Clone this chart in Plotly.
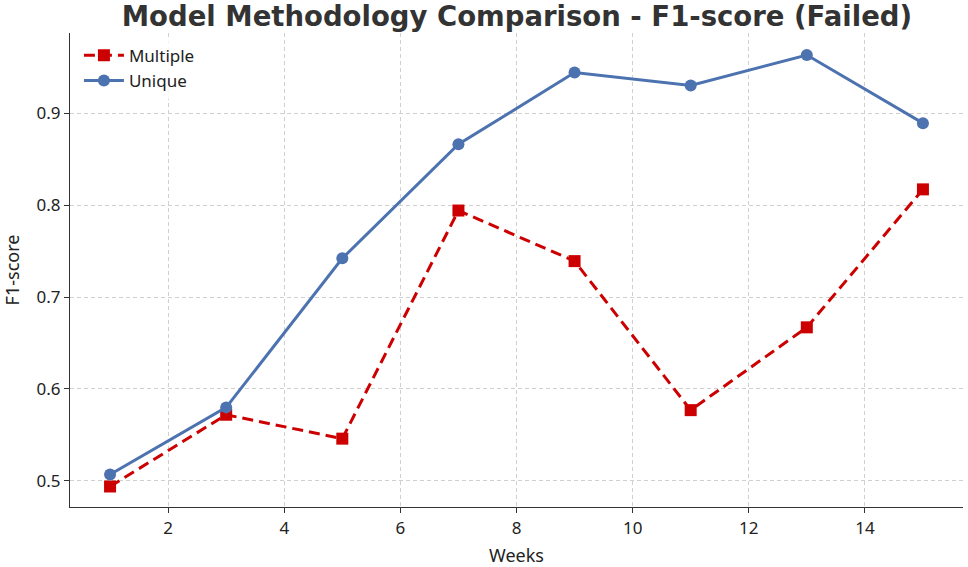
import plotly.graph_objects as go

weeks = [1, 3, 5, 7, 9, 11, 13, 15]
multiple = [0.494, 0.572, 0.546, 0.794, 0.739, 0.577, 0.667, 0.817]
unique = [0.507, 0.580, 0.742, 0.866, 0.944, 0.930, 0.963, 0.889]

FONT = "Noto Sans"

fig = go.Figure()
fig.add_trace(go.Scatter(
    x=weeks, y=multiple, name="Multiple", mode="lines+markers",
    line=dict(color="#cc0000", width=3, dash="11px,6px"),
    marker=dict(symbol="square", size=12, color="#cc0000"),
))
fig.add_trace(go.Scatter(
    x=weeks, y=unique, name="Unique", mode="lines+markers",
    line=dict(color="#4c72b0", width=3),
    marker=dict(symbol="circle", size=12, color="#4c72b0"),
))

axis_common = dict(
    showline=True, linecolor="#333333", linewidth=1.2, mirror=False,
    ticks="outside", ticklen=5, tickcolor="#333333",
    showgrid=True, gridcolor="#d0d0d0", griddash="4px,3px", gridwidth=1,
    zeroline=False, automargin=False,
    tickfont=dict(family=FONT, size=17, color="#222222"),
)

fig.update_layout(
    width=968, height=567,
    margin=dict(l=70, r=5, t=33, b=60),
    plot_bgcolor="white", paper_bgcolor="white",
    title=dict(
        text="<b>Model Methodology Comparison - F1-score (Failed)</b>",
        x=0.534, xanchor="center", y=0.972, yanchor="middle",
        font=dict(family="DejaVu Sans", size=27.5, color="#333333"),
    ),
    xaxis=dict(
        range=[0.31, 15.69], tickvals=[2, 4, 6, 8, 10, 12, 14],
        title=dict(text="Weeks", font=dict(family=FONT, size=18, color="#222222"), standoff=18),
        **axis_common,
    ),
    yaxis=dict(
        range=[0.4717, 0.987], tickvals=[0.5, 0.6, 0.7, 0.8, 0.9],
        tickformat=".1f",
        title=dict(text="F1-score", font=dict(family=FONT, size=18, color="#222222"), standoff=12),
        **axis_common,
    ),
    legend=dict(
        x=0.01, y=0.99, xanchor="left", yanchor="top",
        bgcolor="rgba(255,255,255,0.8)",
        itemwidth=40,
        font=dict(family=FONT, size=17, color="#222222"),
    ),
    showlegend=True,
)

fig.write_html("out.html", config={"displayModeBar": False},
               post_script="document.body.style.margin='0px';")
